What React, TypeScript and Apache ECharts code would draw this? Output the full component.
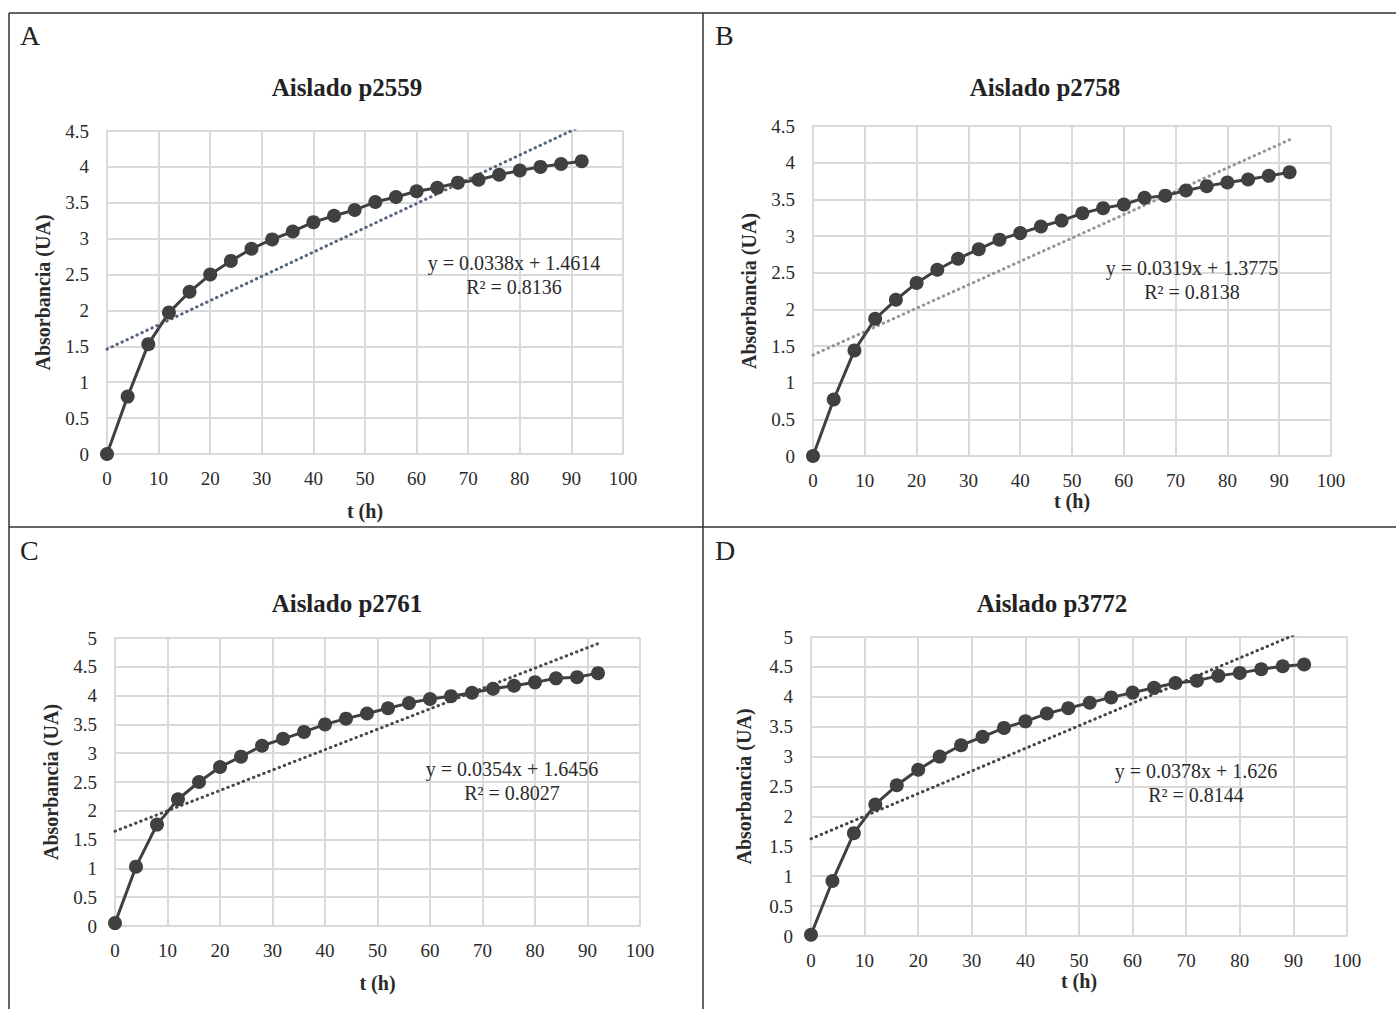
import React, { useEffect, useRef } from "react";
import * as echarts from "echarts";

const hours = [0, 4, 8, 12, 16, 20, 24, 28, 32, 36, 40, 44, 48, 52, 56, 60, 64, 68, 72, 76, 80, 84, 88, 92];
const xTicks = [0, 10, 20, 30, 40, 50, 60, 70, 80, 90, 100];

const absP2559 = [0, 0.8, 1.53, 1.97, 2.26, 2.5, 2.69, 2.86, 2.99, 3.1, 3.23, 3.32, 3.4, 3.51, 3.58, 3.66, 3.71, 3.78, 3.82, 3.89, 3.95, 4.0, 4.04, 4.08];
const absP2758 = [0, 0.77, 1.44, 1.87, 2.13, 2.36, 2.54, 2.69, 2.82, 2.95, 3.04, 3.13, 3.21, 3.31, 3.38, 3.43, 3.52, 3.55, 3.62, 3.68, 3.73, 3.77, 3.82, 3.87];
const absP2761 = [0.05, 1.03, 1.76, 2.2, 2.5, 2.76, 2.94, 3.13, 3.25, 3.37, 3.5, 3.6, 3.69, 3.78, 3.87, 3.94, 3.99, 4.05, 4.12, 4.17, 4.23, 4.3, 4.32, 4.39];
const absP3772 = [0.02, 0.92, 1.72, 2.2, 2.52, 2.78, 3.0, 3.19, 3.33, 3.48, 3.59, 3.72, 3.81, 3.9, 3.99, 4.07, 4.15, 4.23, 4.27, 4.35, 4.4, 4.46, 4.51, 4.54];

const titles = ["Aislado p2559", "Aislado p2758", "Aislado p2761", "Aislado p3772"];
const letters = ["A", "B", "C", "D"];
const slopes = [0.0338, 0.0319, 0.0354, 0.0378];
const intercepts = [1.4614, 1.3775, 1.6456, 1.626];
const equations = ["y = 0.0338x + 1.4614", "y = 0.0319x + 1.3775", "y = 0.0354x + 1.6456", "y = 0.0378x + 1.626"];
const r2Labels = ["R² = 0.8136", "R² = 0.8138", "R² = 0.8027", "R² = 0.8144"];
const yMaxes = [4.5, 4.5, 5, 5];
const seriesValues = [absP2559, absP2758, absP2761, absP3772];

// layout (positions/sizes/styles)
const grids = [
  { left: 107, top: 131, width: 516, height: 323 },
  { left: 813, top: 126, width: 518, height: 330 },
  { left: 115, top: 638, width: 525, height: 288 },
  { left: 811, top: 637, width: 536, height: 299 },
];
const titlePos = [
  { x: 347, y: 87 },
  { x: 1045, y: 87 },
  { x: 347, y: 603 },
  { x: 1052, y: 603 },
];
const letterPos = [
  { x: 20, y: 35 },
  { x: 715, y: 35 },
  { x: 20, y: 550 },
  { x: 715, y: 550 },
];
const eqPos = [
  { x: 514, y: 263, r: 287 },
  { x: 1192, y: 268, r: 292 },
  { x: 512, y: 769, r: 793 },
  { x: 1196, y: 771, r: 795 },
];
const xNameGap = [47, 35, 47, 33];
const yNameGap = [54, 54, 54, 57];
const trendColors = ["#55667e", "#959595", "#4a4a4a", "#454545"];

const FONT = "'Liberation Serif', 'DejaVu Serif', serif";

export default function App() {
  const ref = useRef<HTMLDivElement>(null);
  useEffect(() => {
    document.body.style.margin = "0";
    const chart = echarts.init(ref.current!, null, { renderer: "svg" });
    const gridOpt: any[] = [];
    const xAxes: any[] = [];
    const yAxes: any[] = [];
    const series: any[] = [];
    const graphics: any[] = [];
    for (let i = 0; i < 4; i++) {
      gridOpt.push({ ...grids[i], containLabel: false });
      xAxes.push({
        type: "value",
        gridIndex: i,
        min: xTicks[0],
        max: xTicks[xTicks.length - 1],
        interval: 10,
        name: "t (h)",
        nameLocation: "middle",
        nameGap: xNameGap[i],
        nameTextStyle: { fontFamily: FONT, fontWeight: "bold", fontSize: 20, color: "#2a2a2a" },
        axisLine: { show: true, lineStyle: { color: "#d9d9d9", width: 2 } },
        axisTick: { show: false },
        axisLabel: { fontFamily: FONT, fontSize: 19, color: "#2a2a2a", margin: 15 },
        splitLine: { show: true, lineStyle: { color: "#d9d9d9", width: 2 } },
      });
      yAxes.push({
        type: "value",
        gridIndex: i,
        min: 0,
        max: yMaxes[i],
        interval: 0.5,
        name: "Absorbancia (UA)",
        nameLocation: "middle",
        nameGap: yNameGap[i],
        nameTextStyle: { fontFamily: FONT, fontWeight: "bold", fontSize: 20, color: "#2a2a2a" },
        axisLine: { show: true, lineStyle: { color: "#d9d9d9", width: 2 } },
        axisTick: { show: false },
        axisLabel: { fontFamily: FONT, fontSize: 19, color: "#2a2a2a", margin: 18 },
        splitLine: { show: true, lineStyle: { color: "#d9d9d9", width: 2 } },
      });
      const lastX = hours[hours.length - 1];
      series.push({
        type: "line",
        xAxisIndex: i,
        yAxisIndex: i,
        data: [
          [0, intercepts[i]],
          [lastX, intercepts[i] + slopes[i] * lastX],
        ],
        symbol: "none",
        clip: true,
        lineStyle: { color: trendColors[i], width: 3, type: [0.5, 5], cap: "round" },
        z: 1,
      });
      series.push({
        type: "line",
        xAxisIndex: i,
        yAxisIndex: i,
        data: hours.map((h, k) => [h, seriesValues[i][k]]),
        symbol: "circle",
        symbolSize: 14,
        clip: false,
        itemStyle: { color: "#404040" },
        lineStyle: { color: "#404040", width: 3 },
        z: 2,
      });
      graphics.push({
        type: "text",
        x: titlePos[i].x,
        y: titlePos[i].y,
        style: { text: titles[i], fontFamily: FONT, fontWeight: "bold", fontSize: 25, fill: "#222", textAlign: "center", textVerticalAlign: "middle" },
      });
      graphics.push({
        type: "text",
        x: letterPos[i].x,
        y: letterPos[i].y,
        style: { text: letters[i], fontFamily: FONT, fontSize: 28, fill: "#222", textAlign: "left", textVerticalAlign: "middle" },
      });
      graphics.push({
        type: "text",
        x: eqPos[i].x,
        y: eqPos[i].y,
        z: 10,
        style: { text: equations[i], fontFamily: FONT, fontSize: 20, fill: "#2a2a2a", textAlign: "center", textVerticalAlign: "middle" },
      });
      graphics.push({
        type: "text",
        x: eqPos[i].x,
        y: eqPos[i].r,
        z: 10,
        style: { text: r2Labels[i], fontFamily: FONT, fontSize: 20, fill: "#2a2a2a", textAlign: "center", textVerticalAlign: "middle" },
      });
    }
    const border = { stroke: "#333", lineWidth: 1.5 };
    graphics.push({ type: "line", shape: { x1: 9, y1: 13, x2: 1396, y2: 13 }, style: border });
    graphics.push({ type: "line", shape: { x1: 9, y1: 13, x2: 9, y2: 1009 }, style: border });
    graphics.push({ type: "line", shape: { x1: 703, y1: 13, x2: 703, y2: 1009 }, style: border });
    graphics.push({ type: "line", shape: { x1: 9, y1: 527, x2: 1396, y2: 527 }, style: border });

    chart.setOption({
      animation: false,
      backgroundColor: "#fff",
      grid: gridOpt,
      xAxis: xAxes,
      yAxis: yAxes,
      series,
      graphic: graphics,
    });
    return () => chart.dispose();
  }, []);
  return <div ref={ref} style={{ width: 1396, height: 1009 }} />;
}
